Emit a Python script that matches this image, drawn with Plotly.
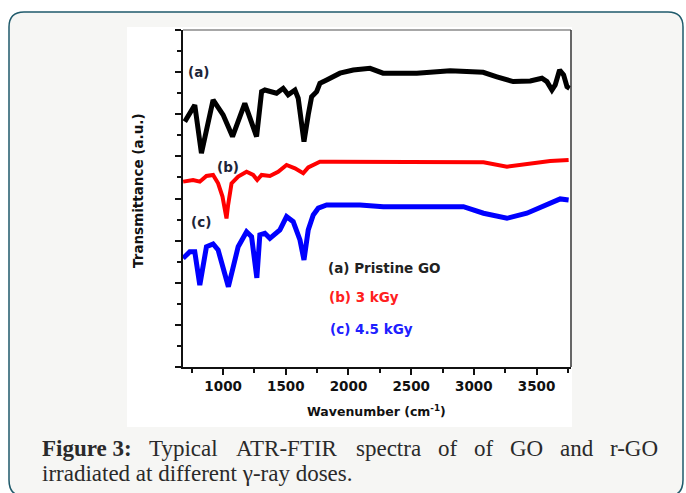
import plotly.graph_objects as go

# ---------------- data (wavenumber cm-1, transmittance a.u.) ----------------
wn_a = [694, 774, 827, 920, 1000, 1075, 1173, 1267, 1307, 1333, 1426, 1479, 1519, 1573,
        1599, 1645, 1679, 1706, 1746, 1772, 1826, 1932, 2038, 2172, 2276, 2545, 2811,
        3074, 3184, 3314, 3450, 3543, 3583, 3623, 3649, 3684, 3716, 3743, 3764]
t_a = [11.65, 12.44, 10.15, 12.68, 11.97, 10.94, 12.52, 10.94, 13.07, 13.15, 13.00, 13.23,
       12.92, 13.15, 12.76, 10.70, 11.97, 12.83, 13.07, 13.47, 13.63, 13.95, 14.10, 14.18,
       13.95, 13.95, 14.06, 13.99, 13.78, 13.55, 13.58, 13.71, 13.55, 13.15, 13.39, 14.10,
       13.87, 13.31, 13.23]

wn_b = [681, 760, 814, 867, 920, 960, 995, 1015, 1027, 1040, 1067, 1120, 1187, 1240, 1272,
        1307, 1373, 1439, 1506, 1573, 1639, 1679, 1772, 1879, 2038, 2278, 2811, 3077, 3264,
        3450, 3609, 3756]
t_b = [8.80, 8.88, 8.80, 9.07, 9.12, 8.72, 8.09, 7.50, 7.05, 7.70, 8.72, 9.04, 9.27, 9.12,
       8.88, 9.12, 9.07, 9.27, 9.59, 9.43, 9.20, 9.48, 9.75, 9.75, 9.75, 9.75, 9.72, 9.72,
       9.51, 9.67, 9.78, 9.83]

wn_c = [681, 734, 774, 814, 867, 920, 960, 1042, 1120, 1187, 1227, 1269, 1293, 1333, 1373,
        1453, 1506, 1559, 1613, 1645, 1679, 1719, 1759, 1826, 1986, 2092, 2278, 2917, 3077,
        3264, 3423, 3609, 3689, 3756]
t_c = [5.16, 5.47, 5.47, 3.89, 5.71, 5.84, 5.56, 3.81, 5.71, 6.42, 6.19, 4.23, 6.27, 6.35,
       6.11, 6.51, 7.14, 6.90, 6.03, 5.08, 6.51, 7.22, 7.54, 7.69, 7.69, 7.69, 7.61, 7.61,
       7.30, 7.06, 7.30, 7.77, 7.98, 7.93]

x_ticks = [1000, 1500, 2000, 2500, 3000, 3500]
series_names = ["(a) Pristine GO", "(b) 3 kGy", "(c) 4.5 kGy"]
curve_tags = ["(a)", "(b)", "(c)"]
caption_words = ["Typical", "ATR-FTIR", "spectra", "of", "of", "GO", "and", "r-GO"]
caption_line2 = "irradiated at different γ-ray doses."

# ---------------- layout helpers (pixel -> paper) ----------------
W, H = 686, 493
L, R, T, B = 183, 571, 30, 367


def X(px):
    return (px - L) / (R - L)


def Y(py):
    return (B - py) / (B - T)


fig = go.Figure()
colors = ["#000000", "#ff0000", "#0000ff"]
widths = [5, 4, 5]
for wn, tv, c, w, n in zip([wn_a, wn_b, wn_c], [t_a, t_b, t_c], colors, widths, series_names):
    fig.add_trace(go.Scatter(x=wn, y=tv, mode="lines", name=n,
                             line=dict(color=c, width=w), showlegend=False))

FS = "DejaVu Sans"
shapes = [
    # card
    dict(type="path", xref="paper", yref="paper", layer="below",
         path=(f"M {X(9)} {Y(27)} Q {X(9)} {Y(12)} {X(24)} {Y(12)} "
               f"L {X(668)} {Y(12)} Q {X(683)} {Y(12)} {X(683)} {Y(27)} "
               f"L {X(683)} {Y(480)} Q {X(683)} {Y(496)} {X(668)} {Y(496)} "
               f"L {X(24)} {Y(496)} Q {X(9)} {Y(496)} {X(9)} {Y(480)} Z"),
         fillcolor="#f6f6f4", line=dict(color="#1f5a6b", width=1.5)),
    # white figure box
    dict(type="rect", xref="paper", yref="paper", layer="below",
         x0=X(127), x1=X(572), y0=Y(427), y1=Y(27),
         fillcolor="#ffffff", line=dict(width=0)),
    # top frame line
    dict(type="line", xref="paper", yref="paper", x0=X(183), x1=X(571), y0=1, y1=1,
         line=dict(color="#8a8a8a", width=1.5)),
    # right frame line
    dict(type="line", xref="paper", yref="paper", x0=1, x1=1, y0=0, y1=1,
         line=dict(color="#333333", width=1.5)),
]

ann = []
tag_pos = [(198, 72), (228, 167), (201, 222)]
for t, (px, py) in zip(curve_tags, tag_pos):
    ann.append(dict(x=X(px), y=Y(py), xref="paper", yref="paper", text=f"<b>{t}</b>",
                    showarrow=False, xanchor="center", yanchor="middle",
                    font=dict(family=FS, size=13.5, color="#1e2438")))
leg_pos = [(326, 268), (327, 297), (328, 329)]
leg_col = ["#222222", "#ff2020", "#2020ff"]
for t, (px, py), c in zip(series_names, leg_pos, leg_col):
    ann.append(dict(x=X(px), y=Y(py), xref="paper", yref="paper", text=f"<b>{t}</b>",
                    showarrow=False, xanchor="left", yanchor="middle",
                    font=dict(family=FS, size=13.5, color=c)))
# axis titles
ann.append(dict(x=X(138), y=Y(191), xref="paper", yref="paper",
                text="<b>Transmittance (a.u.)</b>", textangle=-90, showarrow=False,
                xanchor="center", yanchor="middle",
                font=dict(family=FS, size=13.5, color="#111111")))
ann.append(dict(x=X(376), y=Y(411), xref="paper", yref="paper",
                text="<b>Wavenumber (cm<sup>-1</sup>)</b>", showarrow=False,
                xanchor="center", yanchor="middle",
                font=dict(family=FS, size=12.5, color="#111111")))
# caption
CF = "Liberation Serif"
ann.append(dict(x=X(40), y=Y(448), xref="paper", yref="paper", text="<b>Figure 3:</b>",
                showarrow=False, xanchor="left", yanchor="middle",
                font=dict(family=CF, size=23, color="#2a2a2a")))
word_x = [147, 234, 354, 436, 472, 508, 558, 608]
for wd, px in zip(caption_words, word_x):
    ann.append(dict(x=X(px), y=Y(448), xref="paper", yref="paper", text=wd,
                    showarrow=False, xanchor="left", yanchor="middle",
                    font=dict(family=CF, size=23, color="#2a2a2a")))
ann.append(dict(x=X(40), y=Y(473), xref="paper", yref="paper", text=caption_line2,
                showarrow=False, xanchor="left", yanchor="middle",
                font=dict(family=CF, size=23, color="#2a2a2a")))

fig.update_layout(
    width=W, height=H,
    margin=dict(l=L, r=W - R, t=T, b=H - B, pad=0),
    paper_bgcolor="#ffffff", plot_bgcolor="#ffffff",
    shapes=shapes, annotations=ann, showlegend=False,
    xaxis=dict(range=[680, 3775], tickmode="array", tickvals=x_ticks,
               ticks="outside", ticklen=6, tickwidth=1.5, tickcolor="#111",
               showgrid=False, zeroline=False, showline=True, linecolor="#111", linewidth=2,
               tickfont=dict(family=FS, size=13.5, color="#111", weight="bold"),
               minor=dict(tickmode="linear", tick0=750, dtick=250, ticks="outside",
                          ticklen=4, tickwidth=1.5, tickcolor="#111", showgrid=False)),
    yaxis=dict(range=[0, 16], tickmode="linear", tick0=0, dtick=2, showticklabels=False,
               ticks="outside", ticklen=6, tickwidth=1.5, tickcolor="#111",
               showgrid=False, zeroline=False, showline=True, linecolor="#111", linewidth=2,
               minor=dict(tickmode="linear", tick0=1, dtick=1, ticks="outside",
                          ticklen=4, tickwidth=1.5, tickcolor="#111", showgrid=False)),
)

fig.write_html("out.html")
